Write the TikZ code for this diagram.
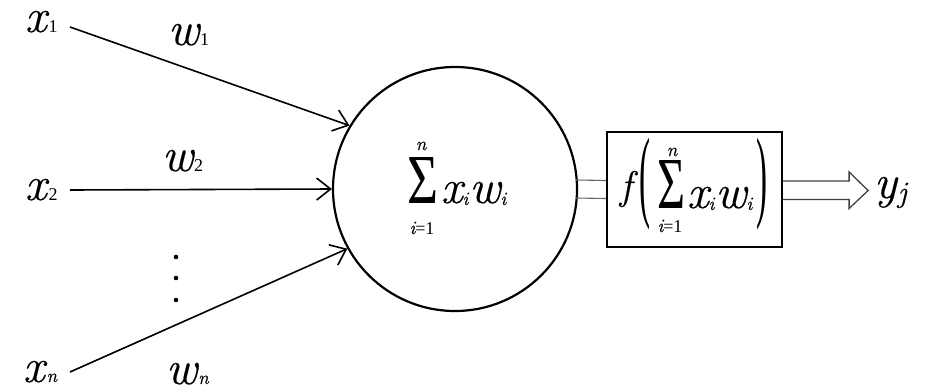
\documentclass[tikz,border=0pt]{standalone}
\usepackage{fontspec}
\setmainfont{Latin Modern Roman}[ItalicFeatures={FakeBold=0.4}]
\newfontfamily\tmsrm{Liberation Serif}
\usepackage{graphicx}
\usetikzlibrary{arrows.meta,calc}
\newcommand{\bigv}[1]{{\fontsize{48}{48}\selectfont\itshape #1}}
\newcommand{\subv}[1]{{\fontsize{19}{19}\selectfont\itshape #1}}
\newcommand{\subn}[1]{{\fontsize{18}{18}\selectfont\tmsrm #1}}
\newcommand{\bigsum}{\resizebox*{31pt}{46pt}{\tmsrm Σ}}
\begin{document}
\begin{tikzpicture}[x=1pt,y=-1pt,
  txt/.style={inner sep=0pt,outer sep=0pt,anchor=base west},
  ctr/.style={inner sep=0pt,outer sep=0pt,anchor=center},
  inarrow/.style={line width=1.6pt,-{Straight Barb[length=14pt,width=22pt,line width=1.6pt]}},
  neuron/.style={circle,draw,line width=2.2pt,minimum size=244pt,inner sep=0pt,fill=white},
  actbox/.style={rectangle,draw,line width=2.2pt,minimum width=175pt,minimum height=115pt,inner sep=0pt,fill=white}]
\useasboundingbox (0,0) rectangle (928,391);
% connector neuron -> box (drawn first)
\node[neuron] (sum) at (455,189) {};
\node[actbox] (act) at (694.5,189.5) {};
\draw[line width=1.1pt,black!60] ($(sum.east)+(-2,-9)$) -- ($(act.west)+(0,-9)$);
\draw[line width=1.1pt,black!60] ($(sum.east)+(-2,9)$) -- ($(act.west)+(0,9)$);
% inputs
\node[txt] (x1) at (25,32) {\bigv{x}\kern2pt\subn{1}};
\node[txt] (x2) at (25,200) {\bigv{x}\kern2pt\subn{2}};
\node[txt] (xn) at (23,382) {\bigv{x}\kern2pt\subv{n}};
\coordinate (s1) at (70,27);
\coordinate (s2) at (70,190);
\coordinate (sn) at (70,372);
\draw[inarrow] (s1) -- (sum.149.4);
\draw[inarrow] (s2) -- (sum.180);
\draw[inarrow] (sn) -- (sum.209.5);
\node[txt] (w1) at (168,45) {\bigv{w}\kern1pt\subn{1}};
\node[txt] (w2) at (162,171) {\bigv{w}\kern1pt\subn{2}};
\node[txt] (wn) at (166,384) {\bigv{w}\kern1pt\subv{n}};
\foreach \yy/\nm in {257/d1,278/d2,300/d3}
  \fill (176,\yy) circle (2.3pt) coordinate (\nm);
% sum inside neuron
\node[ctr] (sig1) at (422.5,180) {\bigsum};
\node[ctr] (n1) at (421,146) {\subv{n}};
\node[ctr] (i1) at (422,228) {\subv{i}\subn{=1}};
\node[txt] (xw1) at (441,203) {\bigv{x}\kern0pt\raisebox{-2pt}{\subv{i}}\kern1pt\bigv{w}\kern0pt\raisebox{-2pt}{\subv{i}}};
% activation box content
\node[txt] (f) at (620,199) {\fontsize{40}{40}\selectfont\itshape f};
\node[ctr] (lp) at (645,184) {\resizebox*{11pt}{92pt}{\tmsrm (}};
\node[ctr] (sig2) at (671,184) {\resizebox*{28pt}{48pt}{\tmsrm Σ}};
\node[ctr] (n2) at (672,152) {\subv{n}};
\node[ctr] (i2) at (670,226) {\subv{i}\subn{=1}};
\node[txt] (xw2) at (687,208) {\bigv{x}\kern0pt\raisebox{-2pt}{\subv{i}}\kern1pt\bigv{w}\kern0pt\raisebox{-2pt}{\subv{i}}};
\node[ctr] (rp) at (762,184) {\resizebox*{11pt}{92pt}{\tmsrm )}};
% output arrow
\draw[line width=1.3pt,black!75,line join=miter]
  ($(act.east)+(0,-8.5)$) -- ++(66,0) -- ++(0,-9) -- ($(act.east)+(85,1)$)
  -- ($(act.east)+(66,19)$) -- ++(0,-9) -- ($(act.east)+(0,10)$);
\node[txt] (yj) at (874,198) {\bigv{y}\kern1pt\raisebox{-4pt}{\fontsize{30}{30}\selectfont\itshape j}};
\end{tikzpicture}
\end{document}
